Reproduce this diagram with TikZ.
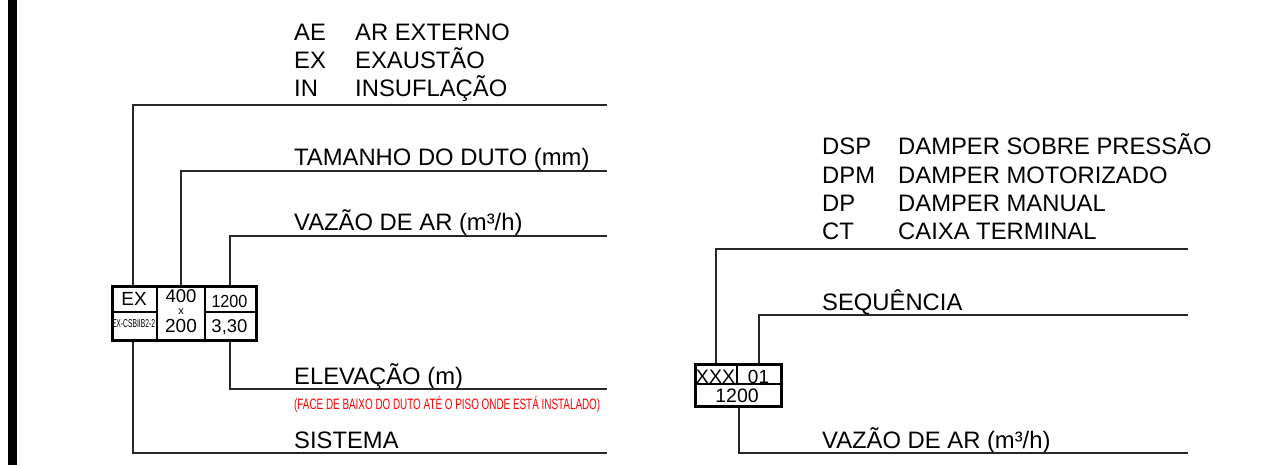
\documentclass[tikz,border=0pt]{standalone}
\usepackage{fontspec}
\setmainfont{Liberation Sans}
\usepackage{graphicx}
\begin{document}
\begin{tikzpicture}[x=1pt,y=-1pt,
  lbl/.style={anchor=base west,inner sep=0pt,font=\fontsize{23.8}{26}\selectfont},
  boxtxt/.style={anchor=base,inner sep=0pt},
  lead/.style={draw=black!85,line width=1.4pt},
  frame/.style={draw=black,line width=3pt},
  divider/.style={draw=black,line width=1.4pt}]
\useasboundingbox (0,0) rectangle (1278,465);
\fill[white] (0,0) rectangle (1278,465);
% left border bar
\fill[black] (8,0) rectangle (17,465);

% ---------- LEFT ----------
\node[lbl] (ae)  at (294,41) {AE};
\node[lbl] (aed) at (355,41) {AR EXTERNO};
\node[lbl] (ex)  at (294,69) {EX};
\node[lbl] (exd) at (355,69) {EXAUSTÃO};
\node[lbl] (in)  at (294,97) {IN};
\node[lbl] (ind) at (355,97) {INSUFLAÇÃO};
\node[lbl] (tam) at (294,166) {TAMANHO DO DUTO (mm)};
\node[lbl] (vaz) at (294,231) {VAZÃO DE AR (m³/h)};
\node[lbl] (ele) at (294,384) {ELEVAÇÃO (m)};
\node[anchor=base west,inner sep=0pt,text=red] (obs) at (294,409.5)
  {\resizebox{306pt}{\height}{\fontsize{15}{17}\selectfont (FACE DE BAIXO DO DUTO ATÉ O PISO ONDE ESTÁ INSTALADO)}};
\node[lbl] (sis) at (294,448) {SISTEMA};

% box
\node[frame,minimum width=144pt,minimum height=54pt,inner sep=0pt,anchor=north west] (boxL) at (110.5,285) {};
\draw[divider] (157,285) -- (157,339);
\draw[divider] (205,285) -- (205,339);
\draw[divider] (boxL.west |- 0,312) -- (157,312);
\draw[divider] (205,312) -- (boxL.east |- 0,312);
\node[boxtxt,font=\fontsize{19}{21}\selectfont] (bEX) at (134,305.5) {EX};
\node[boxtxt] (bSys) at (133.5,327.5) {\resizebox{43pt}{\height}{\fontsize{11.5}{12}\selectfont EX-CSBIIB2-2}};
\node[boxtxt,font=\fontsize{18.5}{20}\selectfont] (b400) at (181,303) {400};
\node[boxtxt,font=\fontsize{11}{12}\selectfont] (bx) at (181,314.5) {x};
\node[boxtxt,font=\fontsize{19}{21}\selectfont] (b200) at (181,333) {200};
\node[boxtxt] (b1200) at (229.5,307.5) {\resizebox{36pt}{\height}{\fontsize{17.5}{20}\selectfont 1200}};
\node[boxtxt,font=\fontsize{18.5}{21}\selectfont] (b330) at (229.5,333) {3,30};

% leader lines left
\coordinate (eA) at (607,105);
\coordinate (eT) at (607,171);
\coordinate (eV) at (607,236);
\coordinate (eE) at (607,389);
\coordinate (eS) at (607,453);
\draw[lead] (boxL.north -| 133,0) |- (eA);
\draw[lead] (boxL.north -| 181,0) |- (eT);
\draw[lead] (boxL.north -| 230,0) |- (eV);
\draw[lead] (boxL.south -| 230,0) |- (eE);
\draw[lead] (boxL.south -| 133,0) |- (eS);

% ---------- RIGHT ----------
\node[lbl] (dsp)  at (822,155) {DSP};
\node[lbl] (dspd) at (898,155) {DAMPER SOBRE PRESSÃO};
\node[lbl] (dpm)  at (822,183.5) {DPM};
\node[lbl] (dpmd) at (898,183.5) {DAMPER MOTORIZADO};
\node[lbl] (dp)   at (822,212) {DP};
\node[lbl] (dpd)  at (898,212) {DAMPER MANUAL};
\node[lbl] (ct)   at (822,240) {CT};
\node[lbl] (ctd)  at (898,240) {CAIXA TERMINAL};
\node[lbl] (seq)  at (822,310) {SEQUÊNCIA};
\node[lbl] (vaz2) at (822,448.5) {VAZÃO DE AR (m³/h)};

\node[frame,minimum width=86pt,minimum height=42pt,inner sep=0pt,anchor=north west] (boxR) at (694,363) {};
\draw[divider] (boxR.west |- 0,384) -- (boxR.east |- 0,384);
\draw[divider] (737,363) -- (737,384);
\node[boxtxt,font=\fontsize{19.5}{21}\selectfont] (rX) at (715.5,383) {XXX};
\node[boxtxt,font=\fontsize{19}{21}\selectfont] (r01) at (758.5,383) {01};
\node[boxtxt,font=\fontsize{19.5}{21}\selectfont] (r1200) at (737,402.5) {1200};

\coordinate (eR1) at (1188,249);
\coordinate (eR2) at (1188,315);
\coordinate (eR3) at (1188,453);
\draw[lead] (boxR.north -| 716,0) |- (eR1);
\draw[lead] (boxR.north -| 759,0) |- (eR2);
\draw[lead] (boxR.south -| 739,0) |- (eR3);
\end{tikzpicture}
\end{document}
